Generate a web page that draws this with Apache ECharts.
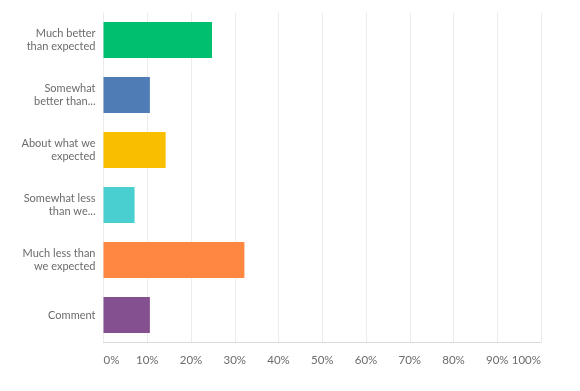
<!DOCTYPE html>
<html><head><meta charset="utf-8">
<script src="https://cdn.jsdelivr.net/npm/echarts@6/dist/echarts.min.js"></script>
<style>html,body{margin:0;padding:0;background:#fff}#c{width:580px;height:391px}</style>
</head><body><div id="c"></div>
<script>
const categories = ["Much better\nthan expected","Somewhat\nbetter than...","About what we\nexpected","Somewhat less\nthan we...","Much less than\nwe expected","Comment"];
const values = [24.8, 10.6, 14.2, 7.1, 32.2, 10.6];
const colors = ["#00bf6f","#507cb6","#f9be00","#4acfd0","#ff8742","#845090"];
const tickLabels = ["0%","10%","20%","30%","40%","50%","60%","70%","80%","90%","100%"];

const chart = echarts.init(document.getElementById('c'), null, {renderer:'canvas'});
chart.setOption({
  animation:false,
  grid:{left:103.5, right:39, top:12.5, bottom:48.5, containLabel:false},
  xAxis:{type:'value', min:0, max:100, interval:10,
    axisLine:{show:true, lineStyle:{color:'#d9d9d9'}}, axisTick:{show:false},
    splitLine:{lineStyle:{color:'#ececec', width:1}},
    axisLabel:{color:'#6b6b6b', fontFamily:'Lato', fontSize:11.5, margin:12,
      alignMinLabel:'left', alignMaxLabel:'right',
      formatter:(v)=>tickLabels[Math.round(v/10)]}
  },
  yAxis:{type:'category', data:categories, inverse:true,
    axisLine:{show:false}, axisTick:{show:false},
    axisLabel:{color:'#6b6b6b', fontFamily:'Lato', fontSize:11, lineHeight:12.5, margin:8, align:'right'}
  },
  series:[{type:'bar', data:values.map((v,i)=>({value:v, itemStyle:{color:colors[i]}})),
    barWidth:36, silent:true}]
});
</script></body></html>
